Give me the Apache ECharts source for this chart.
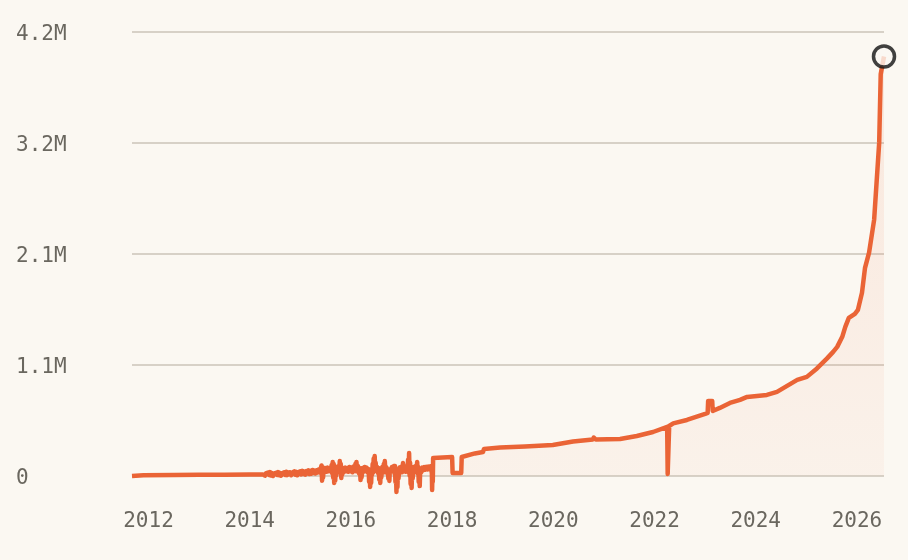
<!DOCTYPE html>
<html>
<head>
<meta charset="utf-8">
<script src="https://cdn.jsdelivr.net/npm/echarts@6/dist/echarts.min.js"></script>
<style>
  html, body { margin: 0; padding: 0; background: #fbf8f2; }
  #chart { width: 908px; height: 560px; }
</style>
</head>
<body>
<div id="chart"></div>
<script>
// decimal years and values
var years = [
  2011.674, 2011.9, 2012.5, 2013.0, 2013.5, 2014.0,
  2014.26, 2014.28, 2014.30, 2014.32, 2014.34, 2014.36, 2014.38, 2014.40, 2014.42, 2014.44,
  2014.46, 2014.48, 2014.50, 2014.52, 2014.54, 2014.56, 2014.58, 2014.60, 2014.62, 2014.64,
  2014.66, 2014.68, 2014.70, 2014.72, 2014.74, 2014.76, 2014.78, 2014.80, 2014.82, 2014.84,
  2014.86, 2014.88, 2014.90, 2014.92, 2014.94, 2014.96, 2014.98, 2015.00, 2015.02, 2015.04,
  2015.06, 2015.08, 2015.10, 2015.12, 2015.14, 2015.16, 2015.18, 2015.20, 2015.22, 2015.24,
  2015.26, 2015.28, 2015.30, 2015.32, 2015.34, 2015.36, 2015.38, 2015.40,
  2015.42, 2015.43, 2015.44, 2015.45, 2015.46, 2015.48, 2015.50, 2015.52, 2015.54, 2015.56,
  2015.58, 2015.60, 2015.62, 2015.63, 2015.64, 2015.65, 2015.66, 2015.67, 2015.68, 2015.69,
  2015.70, 2015.71, 2015.72, 2015.74, 2015.76, 2015.77, 2015.78, 2015.79, 2015.80, 2015.81,
  2015.82, 2015.83, 2015.85, 2015.87, 2015.89, 2015.91, 2015.93, 2015.95, 2015.97, 2015.99,
  2016.01, 2016.03, 2016.05, 2016.07, 2016.09, 2016.10, 2016.11, 2016.12, 2016.14, 2016.16,
  2016.18, 2016.19, 2016.20, 2016.21, 2016.23, 2016.25, 2016.27, 2016.29, 2016.31, 2016.33,
  2016.35, 2016.36, 2016.37, 2016.38, 2016.39, 2016.40, 2016.41, 2016.42, 2016.43, 2016.44,
  2016.45, 2016.46, 2016.47, 2016.48, 2016.49, 2016.50, 2016.52, 2016.54, 2016.55, 2016.56,
  2016.57, 2016.58, 2016.59, 2016.60, 2016.62, 2016.64, 2016.65, 2016.66, 2016.67, 2016.68,
  2016.70, 2016.72, 2016.73, 2016.74, 2016.75, 2016.76, 2016.77, 2016.79, 2016.81, 2016.83,
  2016.85, 2016.86, 2016.87, 2016.88, 2016.89, 2016.90, 2016.91, 2016.92, 2016.93, 2016.94,
  2016.96, 2016.98, 2017.00, 2017.01, 2017.03, 2017.04, 2017.06, 2017.08, 2017.10, 2017.12,
  2017.13, 2017.14, 2017.15, 2017.16, 2017.17, 2017.18, 2017.19, 2017.20, 2017.21, 2017.22,
  2017.24, 2017.26, 2017.28, 2017.29, 2017.31, 2017.32, 2017.33, 2017.34, 2017.35, 2017.36,
  2017.37, 2017.39, 2017.41, 2017.43, 2017.45, 2017.47, 2017.49, 2017.51, 2017.53, 2017.55,
  2017.57, 2017.59, 2017.600, 2017.605, 2017.612, 2017.618, 2017.625,
  2018.00, 2018.01, 2018.18, 2018.19, 2018.45, 2018.61, 2018.63, 2018.95, 2019.44, 2019.99,
  2020.39, 2020.78, 2020.80, 2020.84, 2021.32, 2021.65, 2021.97, 2022.25, 2022.26, 2022.28,
  2022.29, 2022.37, 2022.64, 2023.00, 2023.05, 2023.06, 2023.14, 2023.15, 2023.29, 2023.49,
  2023.69, 2023.83, 2024.22, 2024.42, 2024.82, 2025.01, 2025.21, 2025.41, 2025.53, 2025.61,
  2025.71, 2025.77, 2025.84, 2025.96, 2026.02, 2026.10, 2026.16, 2026.24, 2026.34, 2026.44,
  2026.47, 2026.535
];
var values = [
  -4000, 3000, 5000, 6000, 7000, 9000,
  10000, 25000, -2000, 20000, 2000, 28000, 5000, 33000, 0, 22000,
  -5000, 18000, 3000, 26000, 6000, 32000, 4000, 24000, -2000, 20000,
  8000, 30000, 6000, 36000, 4000, 28000, 10000, 30000, 2000, 26000,
  12000, 38000, 8000, 34000, 2000, 30000, 14000, 40000, 10000, 44000,
  16000, 38000, 8000, 42000, 20000, 48000, 14000, 44000, 18000, 52000,
  24000, 46000, 20000, 50000, 28000, 56000, 30000, 60000,
  95000, -50000, 80000, -20000, 60000, 30000, 70000, 35000, 75000, 40000,
  70000, 45000, 100000, 20000, 128000, -20000, 110000, -70000, 90000, -50000,
  70000, 0, 60000, 30000, 90000, 40000, 137000, 30000, 110000, -24000,
  75000, 10000, 70000, 35000, 75000, 40000, 70000, 35000, 80000, 40000,
  75000, 30000, 85000, 45000, 110000, 40000, 128000, 50000, 90000, 20000,
  70000, -43000, 50000, -20000, 70000, 35000, 80000, 40000, 75000, 30000,
  60000, -60000, 50000, -109000, 40000, -70000, 60000, 10000, 110000, 30000,
  160000, 40000, 185000, 60000, 120000, 40000, 80000, 20000, 70000, -40000,
  60000, -71000, 50000, -20000, 80000, 40000, 110000, 30000, 137000, 50000,
  80000, 20000, 60000, -30000, 50000, -52000, 60000, 40000, 80000, 40000,
  90000, 20000, 90000, -60000, 60000, -156000, 40000, -110000, 60000, -30000,
  75000, 40000, 85000, 30000, 118000, 40000, 80000, 35000, 90000, 40000,
  150000, 30000, 213000, 0, 120000, -80000, 60000, -118000, 50000, -30000,
  80000, 40000, 90000, 30000, 128000, 20000, 80000, -60000, 50000, -100000,
  60000, 30000, 75000, 50000, 80000, 55000, 82000, 58000, 85000, 60000,
  88000, 60000, 20000, -137000, 40000, -60000, 166000,
  175000, 24000, 24000, 175000, 209000, 223000, 251000, 265000, 275000, 289000,
  322000, 341000, 360000, 341000, 346000, 374000, 412000, 460000, 14000, 14000,
  469000, 493000, 526000, 583000, 593000, 706000, 706000, 611000, 640000, 687000,
  716000, 744000, 763000, 792000, 905000, 934000, 1014000, 1109000, 1171000, 1218000,
  1313000, 1408000, 1493000, 1531000, 1569000, 1730000, 1967000, 2110000, 2422000, 3152000,
  3800000, 3968000
];

var xTickYears = [2012, 2014, 2016, 2018, 2020, 2022, 2024, 2026];
var yTickLabels = ['0', '1.1M', '2.1M', '3.2M', '4.2M'];
var yStep = 1050000;

var lineColor = '#ea6436';
var textColor = '#6a675f';
var monoFont = '"DejaVu Sans Mono", monospace';

var points = years.map(function (y, i) { return [y, values[i]]; });
var lastPoint = points[points.length - 1];

var chart = echarts.init(document.getElementById('chart'));
var option = {
  backgroundColor: '#fbf8f2',
  animation: false,

  // plot area
  grid: { left: 132, right: 24, top: 32, bottom: 84.5 },

  xAxis: {
    type: 'value',
    min: years[0],
    max: years[years.length - 1],
    axisLine: { show: false },
    axisTick: { show: false },
    splitLine: { show: false },
    axisLabel: {
      customValues: xTickYears,
      formatter: function (v) { return String(Math.round(v)); },
      color: textColor,
      fontFamily: monoFont,
      fontSize: 21,
      margin: 36
    }
  },

  yAxis: {
    type: 'value',
    min: 0,
    max: yStep * 4,
    interval: yStep,
    axisLine: { show: false },
    axisTick: { show: false },
    splitLine: { lineStyle: { color: '#cbc5b9', width: 1.5 } },
    axisLabel: {
      // rich text so the label can sit a few px lower, like the original
      formatter: function (v) { return '{t|' + yTickLabels[Math.round(v / yStep)] + '}'; },
      rich: {
        t: {
          color: textColor,
          fontFamily: monoFont,
          fontSize: 21,
          padding: [6, 0, 0, 0]
        }
      },
      align: 'left',
      margin: 116
    }
  },

  series: [
    {
      type: 'line',
      data: points,
      clip: false,
      showSymbol: false,
      lineStyle: { color: lineColor, width: 4.5, join: 'round' },
      areaStyle: {
        color: new echarts.graphic.LinearGradient(0, 0, 0, 1, [
          { offset: 0, color: 'rgba(234,100,54,0.16)' },
          { offset: 1, color: 'rgba(234,100,54,0.06)' }
        ])
      },
      markLine: {
        silent: true,
        symbol: 'none',
        label: { show: false },
        lineStyle: { color: '#111', width: 2, type: [6, 4] },
        data: [{ xAxis: lastPoint[0] }]
      },
      z: 2
    },
    {
      // end marker
      type: 'scatter',
      data: [lastPoint],
      symbol: 'circle',
      symbolSize: 21,
      clip: false,
      itemStyle: { color: '#fbf8f2', borderColor: '#111', borderWidth: 3.5 },
      z: 5
    }
  ]
};
chart.setOption(option);
</script>
</body>
</html>
